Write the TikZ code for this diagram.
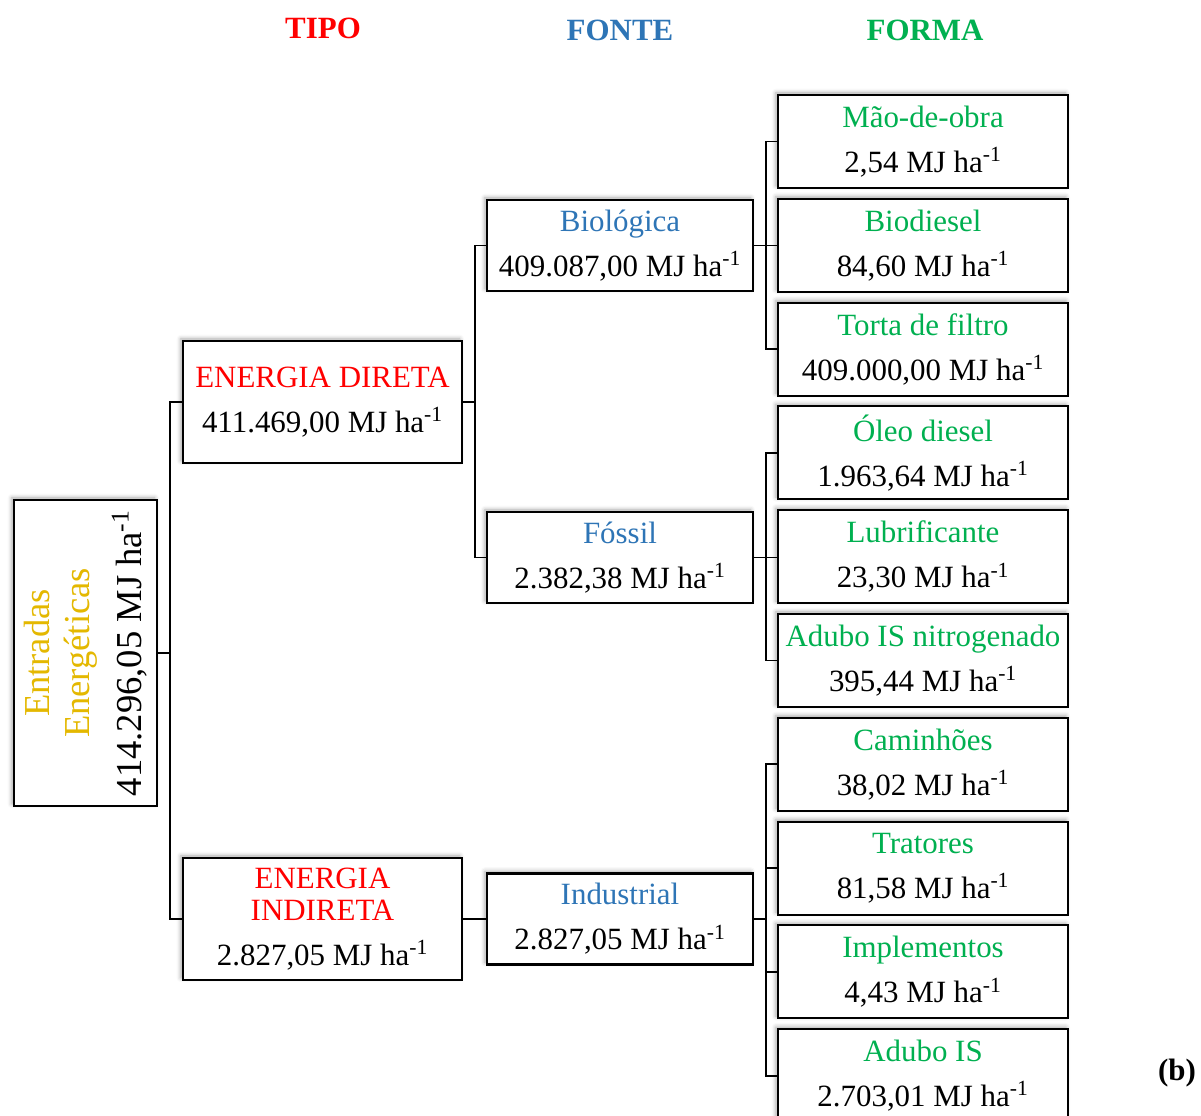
\documentclass[tikz,border=0pt]{standalone}
\usepackage{fontspec}
\setmainfont{Liberation Serif}
\usetikzlibrary{positioning,shadows.blur}

\definecolor{tipocolor}{RGB}{255,0,0}
\definecolor{fontecolor}{RGB}{46,117,182}
\definecolor{formacolor}{RGB}{0,176,80}
\definecolor{entradacolor}{RGB}{228,184,0}

\begin{document}
\begin{tikzpicture}[
    caixa/.style={draw,line width=1.5pt,fill=white,align=center,inner sep=2pt,outer sep=0pt,
      blur shadow={shadow xshift=-1.5pt,shadow yshift=1.5pt,shadow blur radius=3pt,shadow opacity=35},
      font=\fontsize{22}{32}\selectfont},
    tipo/.style={caixa,minimum width=6.975cm,minimum height=3.05cm},
    fonte/.style={caixa,minimum width=6.65cm,minimum height=2.275cm},
    forma/.style={caixa,minimum width=7.25cm,minimum height=2.325cm},
    titulo/.style={font=\fontsize{22}{26}\selectfont\bfseries},
    conn/.style={line width=1.4pt},
    node distance=0.27cm]
    \pgfmathsetmacro{\tipox}{8.0625}
    \pgfmathsetmacro{\fontex}{15.5}
    \pgfmathsetmacro{\formax}{23.075}
    \pgfmathsetmacro{\stub}{0.3}
    \providecommand{\mjha}{MJ ha\textsuperscript{-1}}
    \useasboundingbox (0,0) rectangle (30.025,-27.875);
    % titles
    \node[titulo,text=tipocolor] (ttipo) at (8.075,-0.7) {TIPO};
    \node[titulo,text=fontecolor] (tfonte) at (15.5,-0.75) {FONTE};
    \node[titulo,text=formacolor] (tforma) at (23.125,-0.75) {FORMA};
    \node[titulo] (letra) at (29.425,-26.825) {(b)};
    % forma
    \node[forma] (maodeobra) at (\formax,-3.5375) {{\color{formacolor}Mão-de-obra}\\2,54 \mjha};
    \node[forma,below=of maodeobra] (biodiesel) {{\color{formacolor}Biodiesel}\\84,60 \mjha};
    \node[forma,below=of biodiesel] (torta) {{\color{formacolor}Torta de filtro}\\409.000,00 \mjha};
    \node[forma,below=of torta] (oleo) {{\color{formacolor}Óleo diesel}\\1.963,64 \mjha};
    \node[forma,below=of oleo] (lubrificante) {{\color{formacolor}Lubrificante}\\23,30 \mjha};
    \node[forma,below=of lubrificante] (adubon) {{\color{formacolor}Adubo IS nitrogenado}\\395,44 \mjha};
    \node[forma,below=of adubon] (caminhoes) {{\color{formacolor}Caminhões}\\38,02 \mjha};
    \node[forma,below=of caminhoes] (tratores) {{\color{formacolor}Tratores}\\81,58 \mjha};
    \node[forma,below=of tratores] (implementos) {{\color{formacolor}Implementos}\\4,43 \mjha};
    \node[forma,below=of implementos] (adubois) {{\color{formacolor}Adubo IS}\\2.703,01 \mjha};
    % fonte
    \node[fonte] (biologica) at (\fontex,-6.1375) {{\color{fontecolor}Biológica}\\409.087,00 \mjha};
    \node[fonte] (fossil) at (\fontex,-13.9375) {{\color{fontecolor}Fóssil}\\2.382,38 \mjha};
    \node[fonte] (industrial) at (\fontex,-22.975) {{\color{fontecolor}Industrial}\\2.827,05 \mjha};
    % tipo
    \node[tipo] (direta) at (\tipox,-10.05) {{\color{tipocolor}ENERGIA DIRETA}\\411.469,00 \mjha};
    \node[tipo] (indireta) at (\tipox,-22.975) {{\color{tipocolor}ENERGIA}\\[-9pt]{\color{tipocolor}INDIRETA}\\2.827,05 \mjha};
    % entradas
    \node[caixa,rotate=90,minimum width=7.65cm,minimum height=3.575cm,font=\fontsize{26}{28.5}\selectfont] (entradas) at (2.1375,-16.325)
    {{\color{entradacolor}Entradas}\\{\color{entradacolor}Energéticas}\\[8.5pt]414.296,05 \mjha};
    % ligacoes
    \draw[conn] (direta.west) -- ++(-0.325,0) coordinate (b1) |- (indireta.west);
    \draw[conn] (entradas.south) -- (entradas.south -| b1);
    \draw[conn] (biologica.west) -- ++(-\stub,0) coordinate (b2) |- (fossil.west);
    \draw[conn] (direta.east) -- (direta.east -| b2);
    \draw[conn] (indireta.east) -- (industrial.west);
    \draw[conn] (maodeobra.west) -- ++(-\stub,0) |- (torta.west);
    \draw[conn] (biologica.east) -- (biologica.east -| biodiesel.west);
    \draw[conn] (oleo.west) -- ++(-\stub,0) |- (adubon.west);
    \draw[conn] (fossil.east) -- (fossil.east -| lubrificante.west);
    \draw[conn] (caminhoes.west) -- ++(-\stub,0) coordinate (b3) |- (adubois.west);
    \draw[conn] (tratores.west) -- (tratores.west -| b3);
    \draw[conn] (implementos.west) -- (implementos.west -| b3);
    \draw[conn] (industrial.east) -- (industrial.east -| b3);
\end{tikzpicture}
\end{document}
